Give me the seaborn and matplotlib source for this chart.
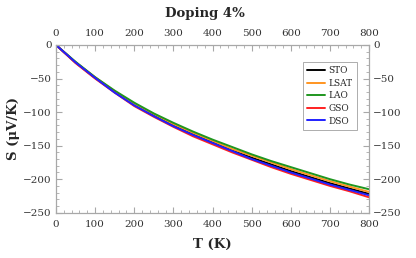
import matplotlib
matplotlib.use("Agg")
import matplotlib.pyplot as plt
from matplotlib.ticker import MultipleLocator
import seaborn as sns
import pandas as pd

T = [0, 50, 100, 150, 200, 250, 300, 350, 400, 450, 500, 550, 600, 650, 700, 750, 800]
STO = [0, -26, -49, -70, -89, -105, -120, -133, -145, -157, -168, -178, -188, -197, -206, -214, -222]
LSAT = [0, -26, -48, -69, -88, -103, -118, -131, -143, -155, -165, -175, -185, -194, -203, -211, -219]
LAO = [0, -25, -48, -68, -86, -102, -116, -129, -141, -152, -163, -173, -182, -191, -200, -208, -215]
GSO = [0, -27, -50, -71, -91, -107, -122, -136, -148, -160, -171, -182, -192, -201, -210, -218, -227]
DSO = [0, -26, -49, -71, -90, -106, -121, -134, -146, -158, -170, -180, -190, -199, -208, -216, -224]

series = {"STO": STO, "LSAT": LSAT, "LAO": LAO, "GSO": GSO, "DSO": DSO}
colors = {"STO": "black", "LSAT": "#ff9520", "LAO": "#1f961f", "GSO": "#ff2020", "DSO": "#2020ff"}

rows = []
for name, vals in series.items():
    for t, s in zip(T, vals):
        rows.append({"T": t, "S": s, "Substrate": name})
df = pd.DataFrame(rows)

sns.set_style("ticks")
plt.rcParams["font.family"] = ["DejaVu Serif"]

fig = plt.figure(figsize=(4.16, 2.58), dpi=100)
ax = fig.add_axes([56/416, 1-212.7/258, (369-56)/416, (212.7-45)/258])

sns.lineplot(data=df, x="T", y="S", hue="Substrate", palette=colors,
             hue_order=list(series.keys()), linewidth=1.4, ax=ax, legend=True)

ax.set_xlim(0, 800)
ax.set_ylim(-250, 0)
ax.xaxis.set_major_locator(MultipleLocator(100))
ax.xaxis.set_minor_locator(MultipleLocator(20))
ax.yaxis.set_major_locator(MultipleLocator(50))
ax.yaxis.set_minor_locator(MultipleLocator(10))
for sp in ax.spines.values():
    sp.set_visible(True)
    sp.set_color("#a8a8a8")
    sp.set_linewidth(0.9)
ax.tick_params(which="both", direction="in", top=True, right=True,
               labeltop=True, labelright=True, colors="#a8a8a8",
               labelcolor="#333333", labelsize=7.5)
ax.tick_params(which="major", length=4, width=0.8)
ax.tick_params(which="minor", length=2, width=0.6)
ax.tick_params(axis="x", which="major", pad=5)
ax.tick_params(axis="y", which="major", pad=3)

ax.set_xlabel("T (K)", fontsize=9.5, fontweight="bold", labelpad=7)
ax.set_ylabel("S (μV/K)", fontsize=9.5, fontweight="bold", labelpad=2)
fig.text(205/416, 1-14/258, "Doping 4%", ha="center", va="center",
         fontsize=9.5, fontweight="bold")

leg = ax.legend(loc="upper right", bbox_to_anchor=(0.975, 0.925), fontsize=6.5,
                frameon=True, fancybox=False, edgecolor="#888888",
                handlelength=2.0, handletextpad=0.4, labelspacing=0.4,
                borderpad=0.45, title=None)
leg.get_frame().set_linewidth(0.6)

fig.savefig("out.png", dpi=100)
